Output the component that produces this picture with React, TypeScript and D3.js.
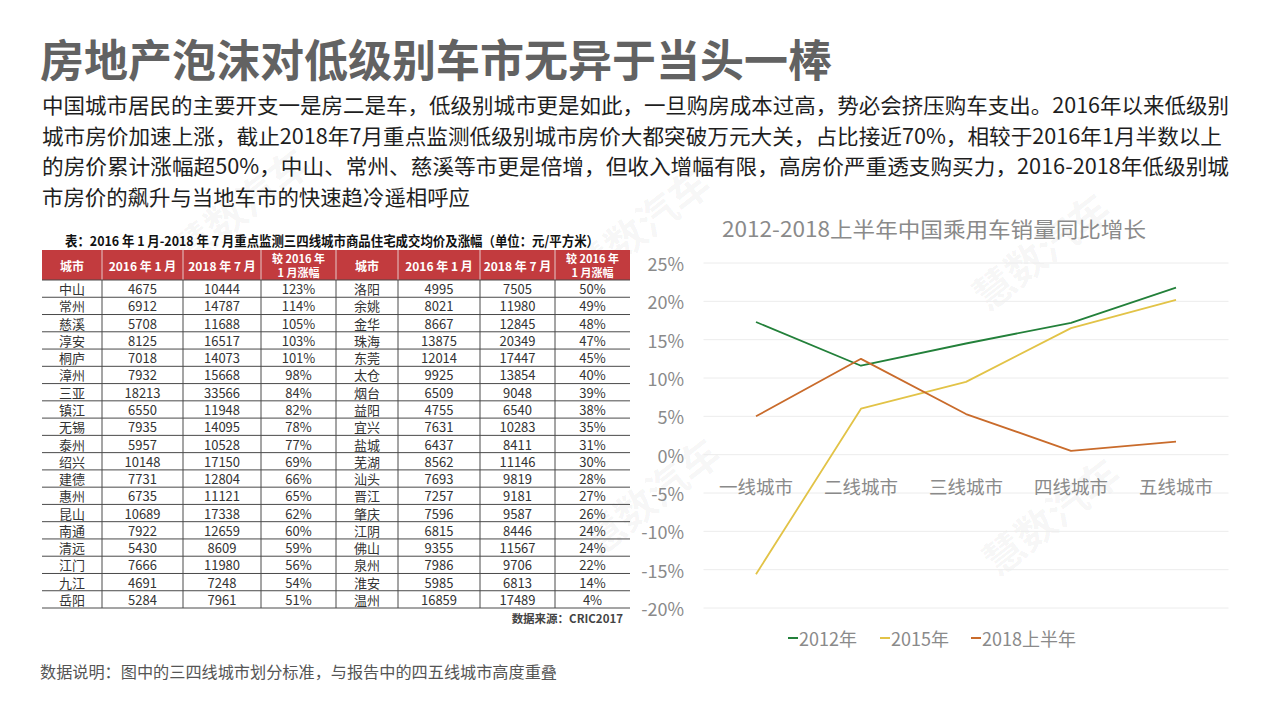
import React from "react";
import * as d3 from "d3";

// ---------- page text ----------
const pageTitle = "房地产泡沫对低级别车市无异于当头一棒";
const paragraphLines = [
  "中国城市居民的主要开支一是房二是车，低级别城市更是如此，一旦购房成本过高，势必会挤压购车支出。2016年以来低级别",
  "城市房价加速上涨，截止2018年7月重点监测低级别城市房价大都突破万元大关，占比接近70%，相较于2016年1月半数以上",
  "的房价累计涨幅超50%，中山、常州、慈溪等市更是倍增，但收入增幅有限，高房价严重透支购买力，2016-2018年低级别城",
  "市房价的飙升与当地车市的快速趋冷遥相呼应",
];
const footNote = "数据说明：图中的三四线城市划分标准，与报告中的四五线城市高度重叠";

// ---------- table data ----------
const tableTitle = "表：2016 年 1 月-2018 年 7 月重点监测三四线城市商品住宅成交均价及涨幅（单位：元/平方米）";
const tableSource = "数据来源：CRIC2017";
const headerCells = ["城市", "2016 年 1 月", "2018 年 7 月", "较 2016 年|1 月涨幅"];
const citiesLeft = ["中山", "常州", "慈溪", "淳安", "桐庐", "漳州", "三亚", "镇江", "无锡", "泰州", "绍兴", "建德", "惠州", "昆山", "南通", "清远", "江门", "九江", "岳阳"];
const jan2016Left = [4675, 6912, 5708, 8125, 7018, 7932, 18213, 6550, 7935, 5957, 10148, 7731, 6735, 10689, 7922, 5430, 7666, 4691, 5284];
const jul2018Left = [10444, 14787, 11688, 16517, 14073, 15668, 33566, 11948, 14095, 10528, 17150, 12804, 11121, 17338, 12659, 8609, 11980, 7248, 7961];
const growthLeft = ["123%", "114%", "105%", "103%", "101%", "98%", "84%", "82%", "78%", "77%", "69%", "66%", "65%", "62%", "60%", "59%", "56%", "54%", "51%"];
const citiesRight = ["洛阳", "余姚", "金华", "珠海", "东莞", "太仓", "烟台", "益阳", "宜兴", "盐城", "芜湖", "汕头", "晋江", "肇庆", "江阴", "佛山", "泉州", "淮安", "温州"];
const jan2016Right = [4995, 8021, 8667, 13875, 12014, 9925, 6509, 4755, 7631, 6437, 8562, 7693, 7257, 7596, 6815, 9355, 7986, 5985, 16859];
const jul2018Right = [7505, 11980, 12845, 20349, 17447, 13854, 9048, 6540, 10283, 8411, 11146, 9819, 9181, 9587, 8446, 11567, 9706, 6813, 17489];
const growthRight = ["50%", "49%", "48%", "47%", "45%", "40%", "39%", "38%", "35%", "31%", "30%", "28%", "27%", "26%", "24%", "24%", "22%", "14%", "4%"];

// ---------- chart data ----------
const chartTitle = "2012-2018上半年中国乘用车销量同比增长";
const categories = ["一线城市", "二线城市", "三线城市", "四线城市", "五线城市"];
const series2012 = [0.173, 0.116, 0.145, 0.172, 0.218];
const series2015 = [-0.156, 0.06, 0.095, 0.165, 0.202];
const series2018H1 = [0.05, 0.125, 0.053, 0.005, 0.017];
const seriesNames = ["2012年", "2015年", "2018上半年"];
const yTicks = [0.25, 0.2, 0.15, 0.1, 0.05, 0, -0.05, -0.1, -0.15, -0.2];

const FONT = "'Noto Sans CJK SC', 'Noto Sans', sans-serif";
const seriesColors = ["#23803a", "#e2c347", "#c96b2b"];

export default function App() {
  // chart scales
  const x = d3.scaleBand<string>().domain(categories).range([703.5, 1228.5]);
  const y = d3.scaleLinear().domain([-0.2, 0.25]).range([608, 263]);
  const line = d3
    .line<number>()
    .x((_, i) => (x(categories[i]) as number) + x.bandwidth() / 2)
    .y((d) => y(d));
  const allSeries = [series2012, series2015, series2018H1];

  // table scales
  const rowIdx = d3.range(citiesLeft.length).map(String);
  const rowY = d3.scaleBand<string>().domain(rowIdx).range([280, 608]);
  const colEdges = [42, 102, 183, 261, 336, 398, 480, 555, 630];
  const leftCols = [citiesLeft, jan2016Left.map(String), jul2018Left.map(String), growthLeft];
  const rightCols = [citiesRight, jan2016Right.map(String), jul2018Right.map(String), growthRight];
  const colsAll = [...leftCols, ...rightCols];

  const watermarks = [
    { cx: 1040, cy: 250 },
    { cx: 1050, cy: 515 },
    { cx: 650, cy: 495 },
    { cx: 640, cy: 225 },
    { cx: 240, cy: 205 },
  ];

  const legendItems = [
    { x: 788, w: 75 },
    { x: 880, w: 75 },
    { x: 971, w: 112 },
  ];

  return (
    <svg
      width={1268}
      height={714}
      viewBox="0 0 1268 714"
      style={{ position: "absolute", left: 0, top: 0, background: "#fff" }}
      fontFamily={FONT}
    >
      <rect x={0} y={0} width={1268} height={714} fill="#fff" />

      {/* watermarks */}
      {watermarks.map((w, i) => (
        <text
          key={i}
          x={w.cx}
          y={w.cy}
          transform={`rotate(-38 ${w.cx} ${w.cy})`}
          textAnchor="middle"
          dominantBaseline="central"
          fontSize={40}
          fontWeight={700}
          fill="#000"
          fillOpacity={0.045}
        >
          慧数汽车
        </text>
      ))}

      {/* page title */}
      <text x={40} y={58} dominantBaseline="central" fontSize={44} fontWeight={700} fill="#626262" textLength={792} lengthAdjust="spacingAndGlyphs">
        {pageTitle}
      </text>

      {/* paragraph */}
      {paragraphLines.map((t, i) => (
        <text
          key={i}
          x={42}
          y={104 + i * 30.5}
          dominantBaseline="central"
          fontSize={21}
          fill="#1e1e1e"
          textLength={[1187, 1180, 1187, 428][i]}
          lengthAdjust="spacingAndGlyphs"
        >
          {t}
        </text>
      ))}

      {/* table */}
      <g>
        <text x={65} y={240} dominantBaseline="central" fontSize={13.5} fontWeight={700} fill="#111" textLength={534} lengthAdjust="spacingAndGlyphs">
          {tableTitle}
        </text>
        <rect x={42} y={250} width={588} height={30} fill="#c23b3e" />
        {[0, 1].map((g) =>
          headerCells.map((h, j) => {
            const x0 = colEdges[g * 4 + j];
            const x1 = colEdges[g * 4 + j + 1];
            const cx = (x0 + x1) / 2;
            const parts = h.split("|");
            return parts.map((p, k) => (
              <text
                key={`h${g}${j}${k}`}
                x={cx}
                y={parts.length === 1 ? 265 : 258 + k * 14}
                textAnchor="middle"
                dominantBaseline="central"
                fontSize={parts.length === 1 ? 12 : 11}
                fontWeight={700}
                fill="#fff"
              >
                {p}
              </text>
            ));
          })
        )}
        {/* header separators */}
        {colEdges.slice(1, -1).map((cx, i) => (
          <line key={`hs${i}`} x1={cx} x2={cx} y1={250} y2={280} stroke="#e6c9c9" strokeWidth={1} />
        ))}
        {/* horizontal lines */}
        {rowIdx.map((r) => (
          <line key={`hl${r}`} x1={42} x2={630} y1={(rowY(r) as number) + rowY.bandwidth()} y2={(rowY(r) as number) + rowY.bandwidth()} stroke="#4a4a4a" strokeWidth={1} />
        ))}
        <line x1={42} x2={630} y1={280} y2={280} stroke="#4a4a4a" strokeWidth={1} />
        {/* vertical lines */}
        {colEdges.slice(1, -1).map((cx, i) => (
          <line key={`vl${i}`} x1={cx} x2={cx} y1={280} y2={608} stroke="#4a4a4a" strokeWidth={1} />
        ))}
        {/* cells */}
        {colsAll.map((col, j) =>
          col.map((v, r) => (
            <text
              key={`c${j}-${r}`}
              x={(colEdges[j] + colEdges[j + 1]) / 2}
              y={(rowY(String(r)) as number) + rowY.bandwidth() / 2}
              textAnchor="middle"
              dominantBaseline="central"
              fontSize={13}
              fill="#333"
            >
              {v}
            </text>
          ))
        )}
        <text x={623} y={618} textAnchor="end" dominantBaseline="central" fontSize={11.5} fontWeight={700} fill="#444">
          {tableSource}
        </text>
      </g>

      {/* chart */}
      <g>
        <text x={934} y={228} textAnchor="middle" dominantBaseline="central" fontSize={21} fill="#8a8a8a" textLength={424} lengthAdjust="spacingAndGlyphs">
          {chartTitle}
        </text>
        {yTicks.map((t) => (
          <g key={t}>
            <line x1={703.5} x2={1228.5} y1={y(t)} y2={y(t)} stroke="#ececec" strokeWidth={1} />
            <text x={684} y={y(t)} textAnchor="end" dominantBaseline="central" fontSize={18} fill="#8a8a8a">
              {d3.format(".0%")(t).replace("−", "-")}
            </text>
          </g>
        ))}
        {categories.map((c) => (
          <text key={c} x={(x(c) as number) + x.bandwidth() / 2} y={486} textAnchor="middle" dominantBaseline="central" fontSize={18.5} fill="#8a8a8a">
            {c}
          </text>
        ))}
        {allSeries.map((s, i) => (
          <path key={i} d={line(s) || ""} fill="none" stroke={seriesColors[i]} strokeWidth={1.8} strokeLinejoin="round" />
        ))}
        {/* legend */}
        {seriesNames.map((n, i) => (
          <g key={n}>
            <line x1={legendItems[i].x} x2={legendItems[i].x + 10} y1={638} y2={638} stroke={seriesColors[i]} strokeWidth={2} />
            <text x={legendItems[i].x + 11} y={638} dominantBaseline="central" fontSize={18} fill="#8a8a8a">
              {n}
            </text>
          </g>
        ))}
      </g>

      {/* footnote */}
      <text x={40} y={671} dominantBaseline="central" fontSize={16} fill="#555" textLength={517} lengthAdjust="spacingAndGlyphs">
        {footNote}
      </text>
    </svg>
  );
}
